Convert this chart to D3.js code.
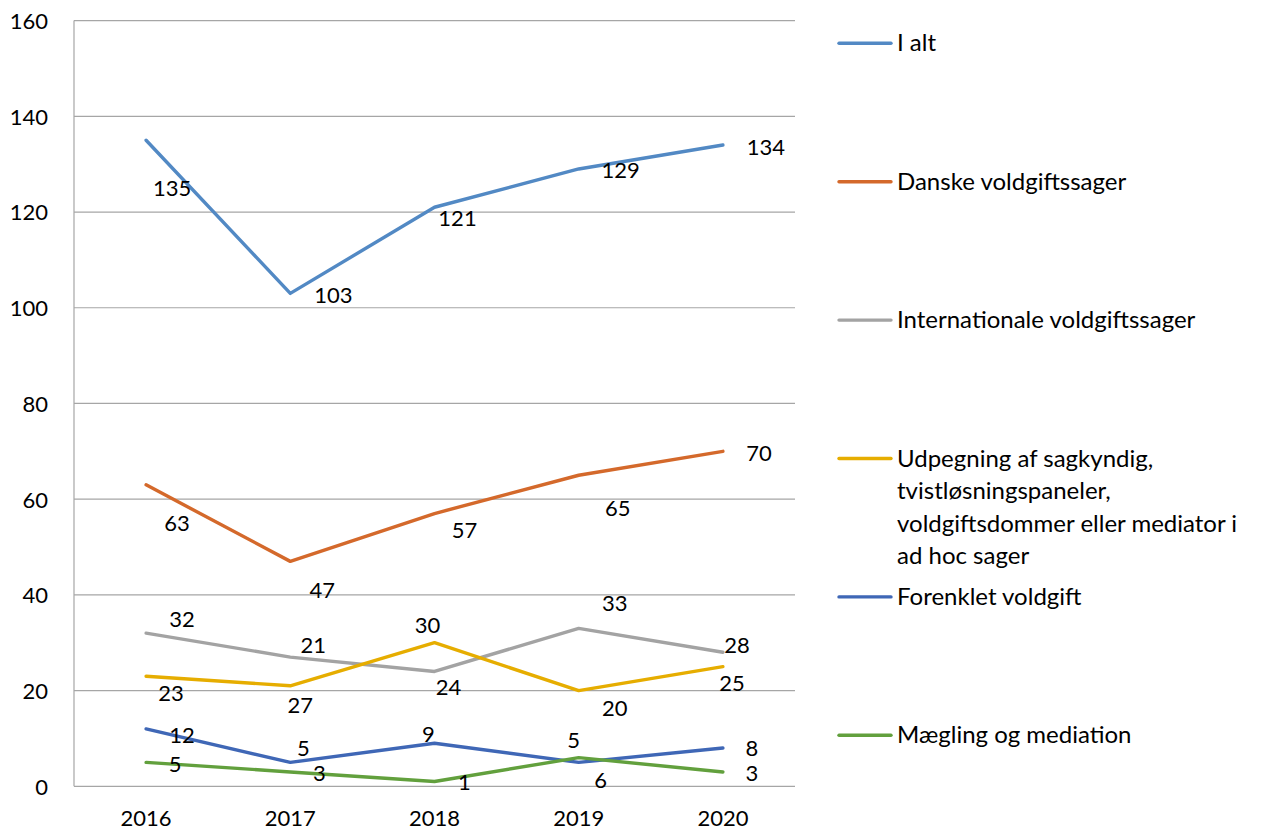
<!DOCTYPE html>
<html>
<head>
<meta charset="utf-8">
<script src="https://cdn.jsdelivr.net/npm/d3@7"></script>
<style>
  html, body { margin: 0; padding: 0; background: #fff; }
  svg text { font-family: Lato, "Open Sans", sans-serif; fill: #000; }
</style>
</head>
<body>
<svg id="chart" width="1266" height="831"></svg>
<script>
// ---- data ----
const years = ["2016", "2017", "2018", "2019", "2020"];
const yTicks = [0, 20, 40, 60, 80, 100, 120, 140, 160];

const seriesNames = [
  "I alt",
  "Danske voldgiftssager",
  "Internationale voldgiftssager",
  "Udpegning af sagkyndig, tvistløsningspaneler, voldgiftsdommer eller mediator i ad hoc sager",
  "Forenklet voldgift",
  "Mægling og mediation"
];
const legendLines = [
  ["I alt"],
  ["Danske voldgiftssager"],
  ["Internationale voldgiftssager"],
  ["Udpegning af sagkyndig,", "tvistløsningspaneler,", "voldgiftsdommer eller mediator i", "ad hoc sager"],
  ["Forenklet voldgift"],
  ["Mægling og mediation"]
];

const valsIAlt       = [135, 103, 121, 129, 134];
const valsDanske     = [63, 47, 57, 65, 70];
const valsIntl       = [32, 27, 24, 33, 28];
const valsUdpegning  = [23, 21, 30, 20, 25];
const valsForenklet  = [12, 5, 9, 5, 8];
const valsMaegling   = [5, 3, 1, 6, 3];

// data labels as printed in the chart
const lblIAlt      = ["135", "103", "121", "129", "134"];
const lblDanske    = ["63", "47", "57", "65", "70"];
const lblIntl      = ["32", "21", "24", "33", "28"];
const lblUdpegning = ["23", "27", "30", "20", "25"];
const lblForenklet = ["12", "5", "9", "5", "8"];
const lblMaegling  = ["5", "3", "1", "6", "3"];

// ---- style / layout ----
const colors = ["#5289c4", "#d4692b", "#a3a3a3", "#e6ad00", "#3f67b6", "#62a03d"];
// label offsets from the point (px): [dx, dy] of label centre
const labelOffsets = [
  [[26, 48], [43, 2], [23, 11], [42, 1], [43, 2]],
  [[31, 38], [32, 29], [30, 17], [39, 33], [36, 2]],
  [[36, -14], [23, -12], [14, 16], [36, -25], [14, -7]],
  [[25, 17], [10, 19], [-7, -18], [36, 17], [9, 16]],
  [[36, 6], [13, -14], [-6, -9], [-5, -22], [29, 0]],
  [[29, 2], [29, 1], [30, 1], [22, 22], [29, 1]]
];

const series = [
  { name: seriesNames[0], values: valsIAlt, labels: lblIAlt },
  { name: seriesNames[1], values: valsDanske, labels: lblDanske },
  { name: seriesNames[2], values: valsIntl, labels: lblIntl },
  { name: seriesNames[3], values: valsUdpegning, labels: lblUdpegning },
  { name: seriesNames[4], values: valsForenklet, labels: lblForenklet },
  { name: seriesNames[5], values: valsMaegling, labels: lblMaegling }
];

const plot = { left: 74, right: 795, top: 20.6, bottom: 786.3 };
const numSize = 22;
const legSize = 24;

const svg = d3.select("#chart");

const x = d3.scaleBand().domain(years).range([plot.left, plot.right]).padding(0);
const xc = d => x(d) + x.bandwidth() / 2;
const y = d3.scaleLinear().domain([0, 160]).range([plot.bottom, plot.top]);

// gridlines
svg.append("g")
  .selectAll("line")
  .data(yTicks)
  .join("line")
  .attr("x1", plot.left).attr("x2", plot.right)
  .attr("y1", d => y(d)).attr("y2", d => y(d))
  .attr("stroke", "#a6a6a6").attr("stroke-width", 1.2);

// left axis line
svg.append("line")
  .attr("x1", plot.left).attr("x2", plot.left)
  .attr("y1", plot.top).attr("y2", plot.bottom)
  .attr("stroke", "#a6a6a6").attr("stroke-width", 1.2);

// y axis labels
const yAxis = d3.axisLeft(y).tickValues(yTicks).tickSize(0).tickPadding(26);
const gy = svg.append("g").attr("transform", `translate(${plot.left},0)`).call(yAxis);
gy.select(".domain").remove();
gy.selectAll("text")
  .attr("font-size", numSize)
  .attr("font-family", "Lato, 'Open Sans', sans-serif")
  .attr("fill", "#000")
  .attr("dy", "0.36em");

// x axis labels
const xAxis = d3.axisBottom(x).tickSize(0).tickPadding(24);
const gx = svg.append("g").attr("transform", `translate(0,${plot.bottom})`).call(xAxis);
gx.select(".domain").remove();
gx.selectAll("text")
  .attr("font-size", numSize)
  .attr("font-family", "Lato, 'Open Sans', sans-serif")
  .attr("fill", "#000")
  .attr("y", 32)
  .attr("dy", "0.36em");

// lines
const line = d3.line().x((d, i) => xc(years[i])).y(d => y(d));
svg.append("g")
  .selectAll("path")
  .data(series)
  .join("path")
  .attr("d", s => line(s.values))
  .attr("fill", "none")
  .attr("stroke", (s, i) => colors[i])
  .attr("stroke-width", 3.4)
  .attr("stroke-linejoin", "round")
  .attr("stroke-linecap", "round");

// data labels
series.forEach((s, si) => {
  svg.append("g")
    .selectAll("text")
    .data(s.values)
    .join("text")
    .attr("x", (d, i) => xc(years[i]) + labelOffsets[si][i][0])
    .attr("y", (d, i) => y(d) + labelOffsets[si][i][1])
    .attr("dy", "0.36em")
    .attr("text-anchor", "middle")
    .attr("font-size", numSize)
    .text((d, i) => s.labels[i]);
});

// legend
const legTop = 43.3, legStep = 138.4, lineH = 32.5;
const leg = svg.append("g")
  .selectAll("g")
  .data(series)
  .join("g")
  .attr("transform", (s, i) => `translate(0,${legTop + i * legStep})`);
leg.append("line")
  .attr("x1", 839).attr("x2", 891)
  .attr("y1", 0).attr("y2", 0)
  .attr("stroke", (s, i) => colors[i])
  .attr("stroke-width", 3.4)
  .attr("stroke-linecap", "round");
leg.each(function (s, i) {
  const t = d3.select(this).append("text")
    .attr("x", 897).attr("y", 0)
    .attr("font-size", legSize);
  legendLines[i].forEach((ln, k) => {
    t.append("tspan").attr("x", 897).attr("y", k * lineH).attr("dy", "0.34em").text(ln);
  });
});
</script>
</body>
</html>
